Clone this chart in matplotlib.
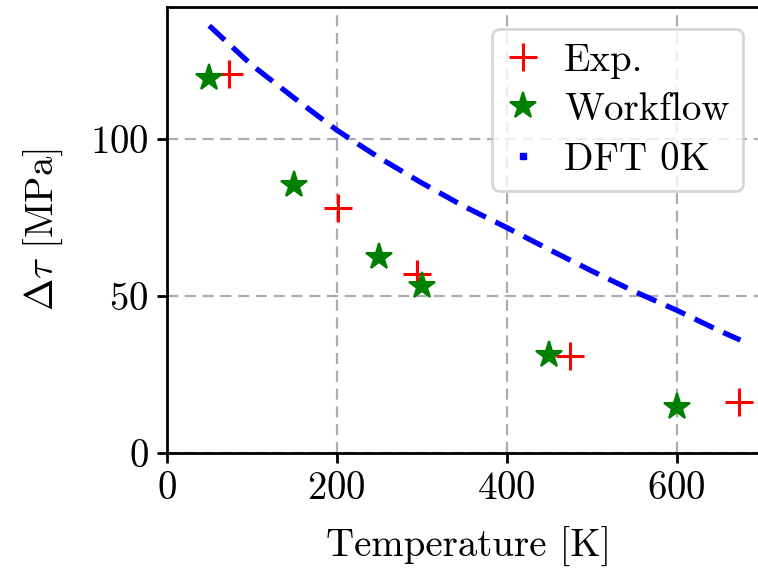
import matplotlib
matplotlib.use("Agg")
import matplotlib.pyplot as plt
from matplotlib.lines import Line2D

plt.rcParams["font.family"] = "cmr10"
plt.rcParams["mathtext.fontset"] = "cm"
plt.rcParams["axes.formatter.use_mathtext"] = True
plt.rcParams["font.size"] = 28

# Experimental data
expT = [73, 201, 294, 474, 673]
expTau = [120.5, 78, 57, 30.9, 16.3]

# Workflow predictions
wfT = [50, 150, 250, 300, 450, 600]
wfTau = [119.5, 85.3, 62.3, 53.2, 31.2, 14.7]

# DFT 0K curve
dftT = [50, 100, 150, 200, 250, 300, 350, 400, 450, 500, 550, 600, 650, 675]
dftTau = [136, 123.5, 113, 102.8, 94, 86, 78.5, 71.8, 64.8, 58, 51.5, 45.5, 39, 36]

fig = plt.figure(figsize=(7.58, 5.73), dpi=100)
ax = fig.add_axes([0.220, 0.209, 0.796, 0.779])

ax.grid(True, linestyle="--", color="0.68", linewidth=1.6, dashes=(5, 3))
ax.set_axisbelow(True)

ax.plot(expT, expTau, "r+", markersize=20, markeredgewidth=2.2, label="Exp.")
ax.plot(wfT, wfTau, "g*", markersize=20, markeredgewidth=1.5, label="Workflow")
ax.plot(dftT, dftTau, "b--", linewidth=3.8, dashes=(4, 2), label="DFT 0K")

ax.set_xlim(0, 710)
ax.set_ylim(0, 142)
ax.set_xticks([0, 200, 400, 600])
ax.set_yticks([0, 50, 100])
ax.set_xlabel("Temperature [K]", labelpad=14)
ax.set_ylabel(r"$\Delta\tau$ [MPa]", labelpad=18)

for s in ax.spines.values():
    s.set_linewidth(2.0)
# the right edge of the frame is cut off in the original figure
ax.spines["right"].set_visible(False)
ax.tick_params(direction="out", length=7, width=2.0, labelsize=28, pad=6)

handles = [
    Line2D([], [], color="r", marker="+", linestyle="none", markersize=20, markeredgewidth=2.2),
    Line2D([], [], color="g", marker="*", linestyle="none", markersize=20, markeredgewidth=1.5),
    Line2D([], [], color="b", marker="s", linestyle="none", markersize=4),
]
leg = ax.legend(handles, ["Exp.", "Workflow", "DFT 0K"], loc="upper right",
                bbox_to_anchor=(0.955, 0.95), borderaxespad=0.0,
                handlelength=0.9, handletextpad=0.6, labelspacing=0.35,
                borderpad=0.35, fontsize=28, framealpha=0.8)
leg.get_frame().set_linewidth(2.0)

fig.savefig("out.png", dpi=100)
